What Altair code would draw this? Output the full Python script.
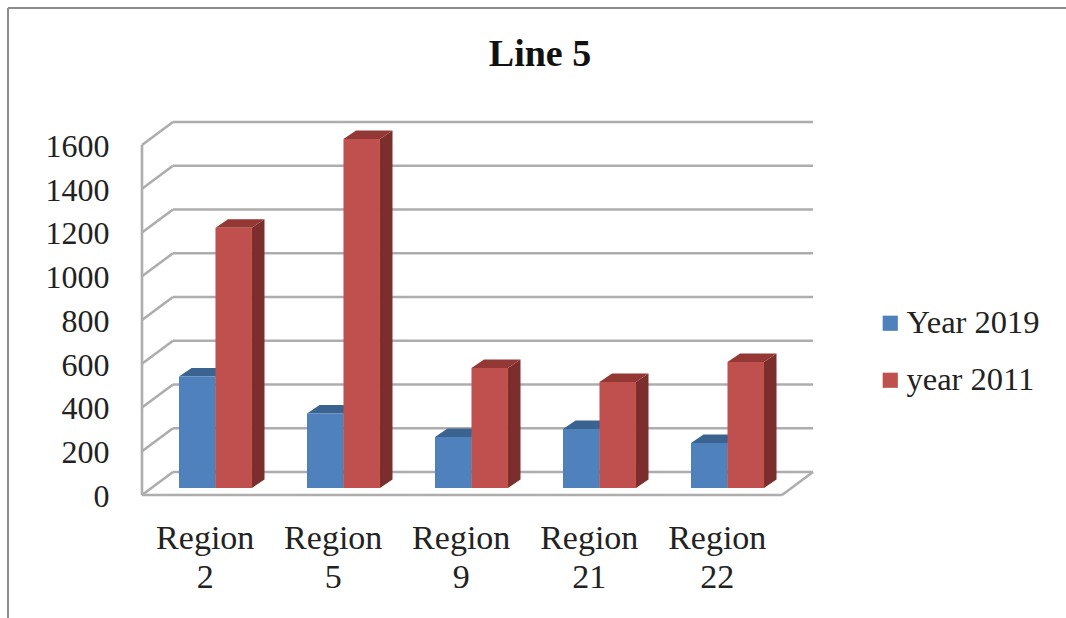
import altair as alt
import pandas as pd

# Chart values
regions = ["2", "5", "9", "21", "22"]
year_2019 = [510, 340, 233, 270, 206]
year_2011 = [1190, 1595, 548, 484, 576]
series_names = ["Year 2019", "year 2011"]
tick_values = [0, 200, 400, 600, 800, 1000, 1200, 1400, 1600]

# Colours of the faces: front, top, side
front_colors = ["#4F81BD", "#C0504D"]
top_colors = ["#3A6390", "#943836"]
side_colors = ["#345680", "#7C2E2C"]
grid_color = "#ADADAD"
text_color = "#222222"
font = "Liberation Serif"

# Oblique projection, in axis units
wall_dx, wall_dy = 0.242, 105
bar_dx, bar_dy = 0.098, 39
bar_lift = 32
bar_start, bar_width = 0.289, 0.285
x_max = 5 + wall_dx
y_max = 1600 + wall_dy
label_positions = [i + 0.49 for i in range(len(regions))]

fronts, tops, sides = [], [], []
for s, (name, values) in enumerate(zip(series_names, [year_2019, year_2011])):
    for i, v in enumerate(values):
        x0 = i + bar_start + s * bar_width
        x1 = x0 + bar_width
        base, top = bar_lift, v + bar_lift
        fronts.append(dict(series=name, s=s, x=x0, x2=x1, y=top, y2=base))
        tops += [
            dict(s=s, bar=i, px=x0, py=top, py2=top),
            dict(s=s, bar=i, px=x0 + bar_dx, py=top + bar_dy, py2=top),
            dict(s=s, bar=i, px=x1, py=top + bar_dy, py2=top),
            dict(s=s, bar=i, px=x1 + bar_dx, py=top + bar_dy, py2=top + bar_dy),
        ]
        sides += [
            dict(s=s, bar=i, px=x1, py=top, py2=base),
            dict(s=s, bar=i, px=x1 + bar_dx, py=top + bar_dy, py2=base + bar_dy),
        ]
fronts = pd.DataFrame(fronts)
tops = pd.DataFrame(tops)
sides = pd.DataFrame(sides)

# Wall and floor lines
lines = []
for t in tick_values:
    lines.append(dict(x=wall_dx, x2=x_max, y=t + wall_dy, y2=t + wall_dy))
    lines.append(dict(x=0, x2=wall_dx, y=t, y2=t + wall_dy))
lines.append(dict(x=0, x2=0, y=0, y2=1600))
lines.append(dict(x=0, x2=5, y=0, y2=0))
lines.append(dict(x=5, x2=x_max, y=0, y2=wall_dy))
lines = pd.DataFrame(lines)

x_scale = alt.Scale(domain=[0, x_max], nice=False, zero=False)
y_scale = alt.Scale(domain=[0, y_max], nice=False)

x_axis = alt.Axis(
    values=label_positions,
    labelExpr="['Region', ['2','5','9','21','22'][round(datum.value - 0.49)]]",
    title=None,
    domain=False,
    ticks=False,
    grid=False,
    labelFont=font,
    labelFontSize=34,
    labelColor=text_color,
    labelPadding=26,
    labelLineHeight=39,
    labelFlush=False,
    labelOverlap=False,
)
y_axis = alt.Axis(
    values=tick_values,
    format="d",
    title=None,
    domain=False,
    ticks=False,
    grid=False,
    labelFont=font,
    labelFontSize=32,
    labelColor=text_color,
    labelPadding=33,
    labelOffset=1.5,
)

wall = alt.Chart(lines).mark_rule(color=grid_color, strokeWidth=2.6).encode(
    x=alt.X("x:Q", scale=x_scale, axis=x_axis),
    x2="x2:Q",
    y=alt.Y("y:Q", scale=y_scale, axis=y_axis),
    y2="y2:Q",
)


def face_layer(table, series_index, color):
    return (
        alt.Chart(table[table["s"] == series_index])
        .mark_area(interpolate="linear", color=color)
        .encode(
            x=alt.X("px:Q", scale=x_scale),
            y=alt.Y("py:Q", scale=y_scale),
            y2="py2:Q",
            detail="bar:N",
        )
    )


def front_layer(series_index):
    return (
        alt.Chart(fronts[fronts["s"] == series_index])
        .mark_rect()
        .encode(
            x=alt.X("x:Q", scale=x_scale),
            x2="x2:Q",
            y=alt.Y("y:Q", scale=y_scale),
            y2="y2:Q",
            color=alt.Color(
                "series:N",
                scale=alt.Scale(domain=series_names, range=front_colors),
                legend=alt.Legend(
                    title=None,
                    orient="none",
                    legendX=732,
                    legendY=185,
                    symbolType="square",
                    symbolSize=230,
                    symbolStrokeWidth=0,
                    labelFont=font,
                    labelFontSize=32.5,
                    labelColor=text_color,
                    labelOffset=0,
                    labelLimit=300,
                    rowPadding=24,
                ),
            ),
        )
    )


one_row = pd.DataFrame({"k": [0]})

# Page frame: left and top edges
frame_left = alt.Chart(one_row).mark_rule(color="#8C8C8C", strokeWidth=2).encode(
    x=alt.value(-134), y=alt.value(-114), y2=alt.value(496)
)
frame_top = alt.Chart(one_row).mark_rule(color="#8C8C8C", strokeWidth=2).encode(
    x=alt.value(-134), x2=alt.value(924), y=alt.value(-114)
)

chart_title = alt.Chart(one_row).mark_text(
    text="Line 5",
    font=font,
    fontSize=38,
    fontWeight="bold",
    color="#111111",
    align="center",
    baseline="alphabetic",
).encode(x=alt.value(398), y=alt.value(-56))

chart = (
    alt.layer(
        frame_left,
        frame_top,
        chart_title,
        wall,
        face_layer(sides, 0, side_colors[0]),
        face_layer(tops, 0, top_colors[0]),
        front_layer(0),
        face_layer(sides, 1, side_colors[1]),
        face_layer(tops, 1, top_colors[1]),
        front_layer(1),
    )
    .properties(
        width=671,
        height=373,
        padding={"left": 142, "top": 122, "right": 253, "bottom": 123},
        autosize=alt.AutoSizeParams(type="none"),
        background="white",
    )
    .configure_view(stroke="transparent", strokeWidth=0)
)

chart.save("out.html", embed_options={"renderer": "svg", "actions": False})
